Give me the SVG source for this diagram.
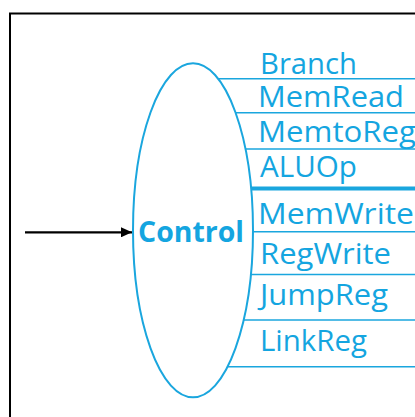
<svg xmlns="http://www.w3.org/2000/svg" width="415" height="417" viewBox="0 0 415 417">
  <style>
    .frame { fill: none; stroke: #000; stroke-width: 2; }
    .sig { stroke: #1AA6DE; stroke-width: 1.6; fill: none; }
    .bus { stroke: #1AA6DE; stroke-width: 4; fill: none; }
    .unit { fill: #fff; stroke: #1AA6DE; stroke-width: 2; }
    .lbl { font-family: "Open Sans", "Noto Sans", sans-serif; font-size: 29px; font-weight: 500; fill: #14A5E0; }
    .title { font-family: "Open Sans", "Noto Sans", sans-serif; font-size: 29px; font-weight: bold; fill: #14A5E0; }
    .wire { stroke: #000; stroke-width: 2.2; fill: none; }
  </style>
  <defs>
    <marker id="arrow" markerWidth="11" markerHeight="10" refX="11" refY="5" orient="auto" markerUnits="userSpaceOnUse">
      <path d="M0,0 L11,5 L0,10 Z" fill="#000"/>
    </marker>
  </defs>

  <rect width="415" height="417" fill="#fff"/>
  <rect class="frame" x="10" y="13.5" width="420" height="420"/>

  <g id="connectors">
    <!-- control outputs, drawn from the unit centre; the unit covers the inner part -->
    <line class="sig" x1="192" y1="78.7" x2="415" y2="78.7"/>
    <line class="sig" x1="192" y1="112.7" x2="415" y2="112.7"/>
    <line class="sig" x1="192" y1="149" x2="415" y2="149"/>
    <line class="bus" x1="192" y1="188.5" x2="415" y2="188.5"/>
    <line class="sig" x1="192" y1="231.7" x2="415" y2="231.7"/>
    <line class="sig" x1="192" y1="274.5" x2="415" y2="274.5"/>
    <line class="sig" x1="192" y1="320" x2="415" y2="320"/>
    <line class="sig" x1="192" y1="366.7" x2="415" y2="366.7"/>
    <!-- opcode input -->
    <line class="wire" x1="25" y1="232.3" x2="132" y2="232.3" marker-end="url(#arrow)"/>
  </g>

  <g id="control">
    <ellipse class="unit" cx="193" cy="230.3" rx="60" ry="167"/>
    <text class="title" x="138" y="242" textLength="106" lengthAdjust="spacingAndGlyphs">Control</text>
  </g>

  <g id="signals">
    <text class="lbl" x="260" y="74" textLength="97" lengthAdjust="spacingAndGlyphs">Branch</text>
    <text class="lbl" x="258" y="107" textLength="146" lengthAdjust="spacingAndGlyphs">MemRead</text>
    <text class="lbl" x="258" y="142" textLength="158" lengthAdjust="spacingAndGlyphs">MemtoReg</text>
    <text class="lbl" x="260" y="177" textLength="97" lengthAdjust="spacingAndGlyphs">ALUOp</text>
    <text class="lbl" x="258" y="224" textLength="156" lengthAdjust="spacingAndGlyphs">MemWrite</text>
    <text class="lbl" x="260" y="264" textLength="131" lengthAdjust="spacingAndGlyphs">RegWrite</text>
    <text class="lbl" x="260" y="305" textLength="128" lengthAdjust="spacingAndGlyphs">JumpReg</text>
    <text class="lbl" x="260" y="351" textLength="107" lengthAdjust="spacingAndGlyphs">LinkReg</text>
  </g>
</svg>
